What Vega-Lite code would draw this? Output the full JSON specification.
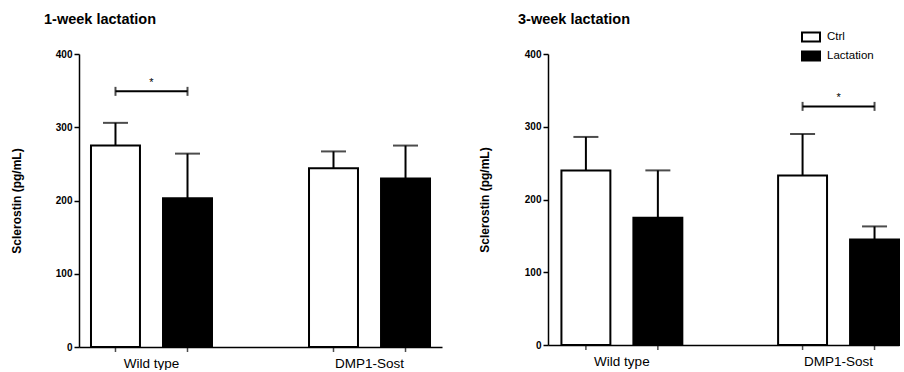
{
  "$schema": "https://vega.github.io/schema/vega-lite/v6.json",
  "padding": {"left": 10, "top": 11, "right": 0, "bottom": 0},
  "background": "white",
  "config": {
    "font": "Liberation Sans",
    "view": {"stroke": null},
    "axis": {"domainColor": "black", "tickColor": "black", "labelColor": "black", "titleColor": "black", "grid": false, "domainWidth": 1.5, "tickWidth": 1.5}
  },
  "datasets": {
    "bars": [
      {"panel": "1-week", "group": "Wild type", "treatment": "Ctrl", "mean": 275, "upper": 306},
      {"panel": "1-week", "group": "Wild type", "treatment": "Lactation", "mean": 203, "upper": 264},
      {"panel": "1-week", "group": "DMP1-Sost", "treatment": "Ctrl", "mean": 244, "upper": 267},
      {"panel": "1-week", "group": "DMP1-Sost", "treatment": "Lactation", "mean": 230, "upper": 275},
      {"panel": "3-week", "group": "Wild type", "treatment": "Ctrl", "mean": 240, "upper": 286},
      {"panel": "3-week", "group": "Wild type", "treatment": "Lactation", "mean": 175, "upper": 240},
      {"panel": "3-week", "group": "DMP1-Sost", "treatment": "Ctrl", "mean": 233, "upper": 290},
      {"panel": "3-week", "group": "DMP1-Sost", "treatment": "Lactation", "mean": 145, "upper": 163}
    ],
    "brackets": [
      {"panel": "1-week", "group": "Wild type", "treatment": "Ctrl", "y": 349},
      {"panel": "1-week", "group": "Wild type", "treatment": "Lactation", "y": 349},
      {"panel": "3-week", "group": "DMP1-Sost", "treatment": "Ctrl", "y": 328},
      {"panel": "3-week", "group": "DMP1-Sost", "treatment": "Lactation", "y": 328}
    ],
    "stars": [
      {"panel": "1-week", "group": "Wild type", "y": 365, "label": "*"},
      {"panel": "3-week", "group": "DMP1-Sost", "y": 343, "label": "*"}
    ]
  },
  "bounds": "flush",
  "spacing": 106,
  "resolve": {
    "scale": {"x": "independent", "y": "independent", "xOffset": "independent", "fill": "independent"},
    "legend": {"fill": "independent"}
  },
  "hconcat": [
    {
      "width": 363,
      "height": 293,
      "title": {"text": "1-week lactation", "anchor": "start", "frame": "group", "dx": -35, "fontSize": 14.5, "fontWeight": "bold", "color": "black", "offset": 22},
      "layer": [
        {
          "data": {"name": "bars"},
          "transform": [{"filter": "datum.panel === '1-week'"}],
          "mark": {"type": "bar", "stroke": "black", "strokeWidth": 2},
          "encoding": {
            "x": {"field": "group", "type": "nominal", "sort": ["Wild type", "DMP1-Sost"], "scale": {"paddingInner": 0.445, "paddingOuter": 0.055}, "axis": {"title": null, "ticks": false, "labelAngle": 0, "labelFontSize": 13.5, "labelPadding": 9}},
            "xOffset": {"field": "treatment", "type": "nominal", "sort": ["Ctrl", "Lactation"], "scale": {"paddingInner": 0.32, "paddingOuter": 0}},
            "y": {"field": "mean", "type": "quantitative", "title": "Sclerostin (pg/mL)", "scale": {"domain": [0, 400], "nice": false}, "axis": {"values": [0, 100, 200, 300, 400], "labelFontSize": 10, "labelFontWeight": "bold", "tickSize": 5, "labelPadding": 2, "titleFontSize": 12, "titleFontWeight": "bold", "titleX": -63, "titleY": 146.5, "titleBaseline": "middle"}},
            "fill": {"field": "treatment", "type": "nominal", "scale": {"domain": ["Ctrl", "Lactation"], "range": ["white", "black"]}, "legend": null}
          }
        },
        {
          "data": {"name": "bars"},
          "transform": [{"filter": "datum.panel === '1-week'"}],
          "mark": {"type": "tick", "orient": "vertical", "color": "black", "size": 5, "thickness": 1.5, "yOffset": 2.5},
          "encoding": {
            "x": {"field": "group", "type": "nominal", "sort": ["Wild type", "DMP1-Sost"]},
            "xOffset": {"field": "treatment", "type": "nominal", "sort": ["Ctrl", "Lactation"]},
            "y": {"datum": 0, "type": "quantitative", "title": "Sclerostin (pg/mL)"}
          }
        },
        {
          "data": {"name": "bars"},
          "transform": [{"filter": "datum.panel === '1-week'"}],
          "mark": {"type": "rule", "color": "black", "strokeWidth": 2},
          "encoding": {
            "x": {"field": "group", "type": "nominal", "sort": ["Wild type", "DMP1-Sost"]},
            "xOffset": {"field": "treatment", "type": "nominal", "sort": ["Ctrl", "Lactation"]},
            "y": {"field": "mean", "type": "quantitative", "title": "Sclerostin (pg/mL)"},
            "y2": {"field": "upper"}
          }
        },
        {
          "data": {"name": "bars"},
          "transform": [{"filter": "datum.panel === '1-week'"}],
          "mark": {"type": "tick", "orient": "horizontal", "color": "black", "size": 25, "thickness": 2},
          "encoding": {
            "x": {"field": "group", "type": "nominal", "sort": ["Wild type", "DMP1-Sost"]},
            "xOffset": {"field": "treatment", "type": "nominal", "sort": ["Ctrl", "Lactation"]},
            "y": {"field": "upper", "type": "quantitative", "title": "Sclerostin (pg/mL)"}
          }
        },
        {
          "data": {"name": "brackets"},
          "transform": [{"filter": "datum.panel === '1-week'"}],
          "mark": {"type": "line", "color": "black", "strokeWidth": 2},
          "encoding": {
            "x": {"field": "group", "type": "nominal", "sort": ["Wild type", "DMP1-Sost"]},
            "xOffset": {"field": "treatment", "type": "nominal", "sort": ["Ctrl", "Lactation"]},
            "y": {"field": "y", "type": "quantitative", "title": "Sclerostin (pg/mL)"}
          }
        },
        {
          "data": {"name": "brackets"},
          "transform": [{"filter": "datum.panel === '1-week'"}],
          "mark": {"type": "tick", "orient": "vertical", "color": "black", "size": 9, "thickness": 2},
          "encoding": {
            "x": {"field": "group", "type": "nominal", "sort": ["Wild type", "DMP1-Sost"]},
            "xOffset": {"field": "treatment", "type": "nominal", "sort": ["Ctrl", "Lactation"]},
            "y": {"field": "y", "type": "quantitative", "title": "Sclerostin (pg/mL)"}
          }
        },
        {
          "data": {"name": "stars"},
          "transform": [{"filter": "datum.panel === '1-week'"}],
          "mark": {"type": "text", "color": "black", "fontSize": 11, "baseline": "middle", "dy": 3},
          "encoding": {
            "x": {"field": "group", "type": "nominal", "sort": ["Wild type", "DMP1-Sost"]},
            "y": {"field": "y", "type": "quantitative", "title": "Sclerostin (pg/mL)"},
            "text": {"field": "label"}
          }
        }
      ]
    },
    {
      "width": 351,
      "height": 291,
      "title": {"text": "3-week lactation", "anchor": "start", "frame": "group", "dx": -30, "fontSize": 14.5, "fontWeight": "bold", "color": "black", "offset": 0},
      "layer": [
        {
          "data": {"name": "bars"},
          "transform": [{"filter": "datum.panel === '3-week'"}],
          "mark": {"type": "bar", "stroke": "black", "strokeWidth": 2},
          "encoding": {
            "x": {"field": "group", "type": "nominal", "sort": ["Wild type", "DMP1-Sost"], "scale": {"paddingInner": 0.442, "paddingOuter": 0.031, "align": 1}, "axis": {"title": null, "ticks": false, "labelAngle": 0, "labelFontSize": 13.5, "labelPadding": 9}},
            "xOffset": {"field": "treatment", "type": "nominal", "sort": ["Ctrl", "Lactation"], "scale": {"paddingInner": 0.32, "paddingOuter": 0}},
            "y": {"field": "mean", "type": "quantitative", "title": "Sclerostin (pg/mL)", "scale": {"domain": [0, 400], "nice": false}, "axis": {"values": [0, 100, 200, 300, 400], "labelFontSize": 10, "labelFontWeight": "bold", "tickSize": 5, "labelPadding": 2, "titleFontSize": 12, "titleFontWeight": "bold", "titleX": -64, "titleY": 145.5, "titleBaseline": "middle"}},
            "fill": {"field": "treatment", "type": "nominal", "scale": {"domain": ["Ctrl", "Lactation"], "range": ["white", "black"]}, "legend": {"title": null, "orient": "none", "legendX": 253, "legendY": -27, "symbolType": "M-1,-0.5H1V0.5H-1Z", "symbolSize": 324, "symbolStrokeColor": "black", "symbolStrokeWidth": 2, "labelFontSize": 11.5, "labelColor": "black", "labelOffset": 6, "padding": 0, "rowPadding": 0}}
          }
        },
        {
          "data": {"name": "bars"},
          "transform": [{"filter": "datum.panel === '3-week'"}],
          "mark": {"type": "tick", "orient": "vertical", "color": "black", "size": 5, "thickness": 1.5, "yOffset": 2.5},
          "encoding": {
            "x": {"field": "group", "type": "nominal", "sort": ["Wild type", "DMP1-Sost"]},
            "xOffset": {"field": "treatment", "type": "nominal", "sort": ["Ctrl", "Lactation"]},
            "y": {"datum": 0, "type": "quantitative", "title": "Sclerostin (pg/mL)"}
          }
        },
        {
          "data": {"name": "bars"},
          "transform": [{"filter": "datum.panel === '3-week'"}],
          "mark": {"type": "rule", "color": "black", "strokeWidth": 2},
          "encoding": {
            "x": {"field": "group", "type": "nominal", "sort": ["Wild type", "DMP1-Sost"]},
            "xOffset": {"field": "treatment", "type": "nominal", "sort": ["Ctrl", "Lactation"]},
            "y": {"field": "mean", "type": "quantitative", "title": "Sclerostin (pg/mL)"},
            "y2": {"field": "upper"}
          }
        },
        {
          "data": {"name": "bars"},
          "transform": [{"filter": "datum.panel === '3-week'"}],
          "mark": {"type": "tick", "orient": "horizontal", "color": "black", "size": 25, "thickness": 2},
          "encoding": {
            "x": {"field": "group", "type": "nominal", "sort": ["Wild type", "DMP1-Sost"]},
            "xOffset": {"field": "treatment", "type": "nominal", "sort": ["Ctrl", "Lactation"]},
            "y": {"field": "upper", "type": "quantitative", "title": "Sclerostin (pg/mL)"}
          }
        },
        {
          "data": {"name": "brackets"},
          "transform": [{"filter": "datum.panel === '3-week'"}],
          "mark": {"type": "line", "color": "black", "strokeWidth": 2},
          "encoding": {
            "x": {"field": "group", "type": "nominal", "sort": ["Wild type", "DMP1-Sost"]},
            "xOffset": {"field": "treatment", "type": "nominal", "sort": ["Ctrl", "Lactation"]},
            "y": {"field": "y", "type": "quantitative", "title": "Sclerostin (pg/mL)"}
          }
        },
        {
          "data": {"name": "brackets"},
          "transform": [{"filter": "datum.panel === '3-week'"}],
          "mark": {"type": "tick", "orient": "vertical", "color": "black", "size": 9, "thickness": 2},
          "encoding": {
            "x": {"field": "group", "type": "nominal", "sort": ["Wild type", "DMP1-Sost"]},
            "xOffset": {"field": "treatment", "type": "nominal", "sort": ["Ctrl", "Lactation"]},
            "y": {"field": "y", "type": "quantitative", "title": "Sclerostin (pg/mL)"}
          }
        },
        {
          "data": {"name": "stars"},
          "transform": [{"filter": "datum.panel === '3-week'"}],
          "mark": {"type": "text", "color": "black", "fontSize": 11, "baseline": "middle", "dy": 3},
          "encoding": {
            "x": {"field": "group", "type": "nominal", "sort": ["Wild type", "DMP1-Sost"]},
            "y": {"field": "y", "type": "quantitative", "title": "Sclerostin (pg/mL)"},
            "text": {"field": "label"}
          }
        }
      ]
    }
  ]
}
